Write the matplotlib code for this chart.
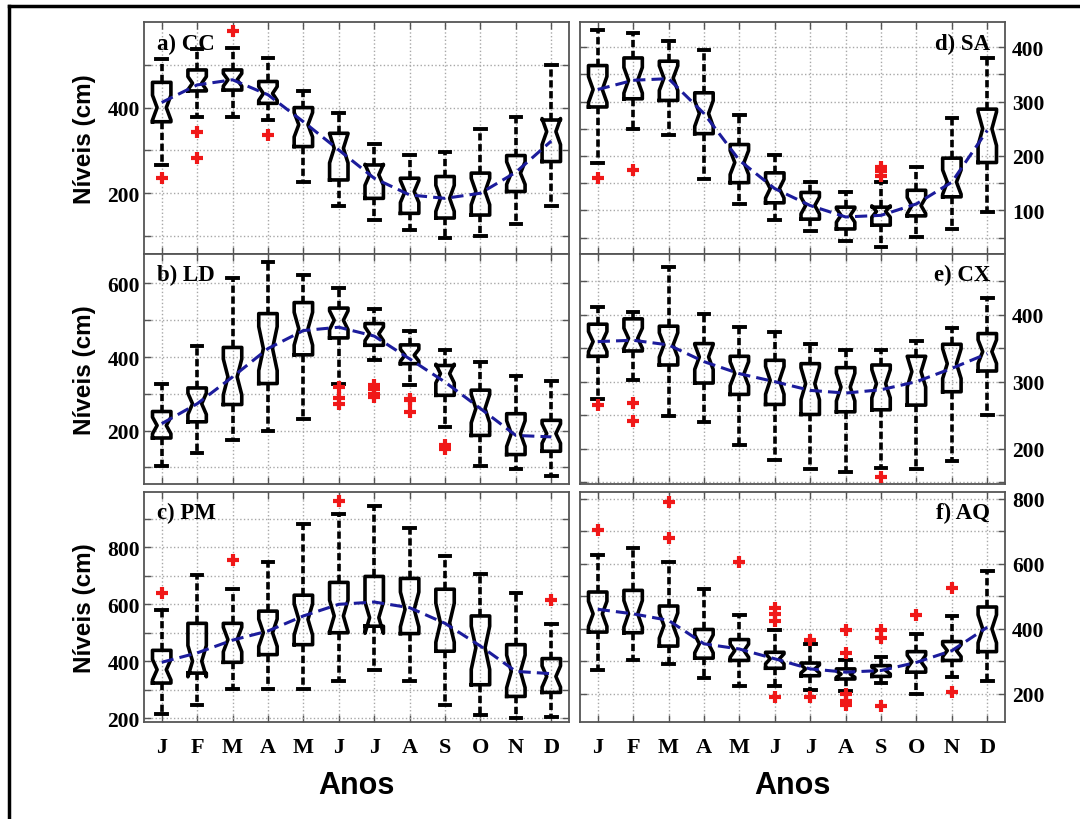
import numpy as np
import matplotlib
matplotlib.use('Agg')
import matplotlib.pyplot as plt
from matplotlib.ticker import FixedLocator

# Month labels shared by all panels
months = ['J', 'F', 'M', 'A', 'M', 'J', 'J', 'A', 'S', 'O', 'N', 'D']
n_years = 25  # sample size used for the notch width

# (whislo, q1, median, q3, whishi) for each month, outliers, and the fitted curve

# a) CC
cc_box = [(265, 367, 400, 459, 513), (379, 439, 457, 488, 538), (379, 441, 465, 488, 540),
          (372, 410, 433, 461, 517), (226, 309, 360, 400, 439), (169, 231, 305, 340, 387),
          (138, 188, 243, 266, 314), (113, 153, 204, 235, 290), (95, 142, 188, 239, 297),
          (101, 149, 204, 247, 350), (128, 204, 247, 288, 379), (169, 274, 344, 371, 500)]
cc_out = [[235], [342, 282], [580], [336], [], [], [], [], [], [], [], []]
cc_line = [412, 453, 465, 430, 367, 301, 235, 196, 188, 200, 249, 322]

# b) LD
ld_box = [(104, 180, 214, 252, 328), (140, 224, 273, 316, 430), (174, 271, 346, 426, 614),
          (200, 328, 423, 518, 658), (231, 406, 477, 548, 624), (328, 452, 500, 533, 587),
          (391, 432, 463, 491, 531), (323, 382, 405, 433, 470), (210, 296, 355, 377, 418),
          (104, 187, 260, 310, 386), (97, 135, 192, 246, 348), (77, 144, 192, 228, 334)]
ld_out = [[], [], [], [], [], [319, 289, 273], [323, 314, 300, 291], [287, 282, 251],
          [160, 151], [], [], []]
ld_line = [219, 273, 346, 423, 472, 481, 457, 395, 332, 260, 187, 183]

# c) PM
pm_box = [(213, 323, 370, 438, 580), (246, 358, 400, 533, 703), (301, 396, 476, 533, 653),
          (301, 423, 500, 576, 748), (301, 458, 547, 632, 883), (329, 500, 559, 677, 919),
          (370, 523, 553, 698, 946), (331, 497, 582, 691, 868), (246, 435, 535, 653, 771),
          (211, 317, 447, 559, 706), (199, 276, 364, 458, 639), (202, 290, 346, 409, 529)]
pm_out = [[638], [], [756], [], [], [962], [], [], [], [], [], [615]]
pm_line = [396, 429, 474, 506, 559, 600, 608, 588, 533, 453, 364, 356]

# d) SA
sa_box = [(188, 290, 322, 366, 432), (249, 305, 339, 380, 426), (238, 302, 343, 374, 412),
          (158, 241, 278, 316, 394), (111, 151, 188, 221, 275), (82, 114, 140, 169, 201),
          (63, 84, 109, 133, 152), (43, 66, 91, 106, 133), (33, 73, 98, 106, 152),
          (51, 90, 109, 137, 180), (66, 125, 152, 196, 270), (98, 188, 250, 286, 380)]
sa_out = [[159], [175], [], [], [], [], [], [], [180, 172, 164], [], [], []]
sa_line = [322, 339, 342, 278, 192, 140, 109, 88, 91, 112, 152, 247]

# e) CX
cx_box = [(274, 338, 360, 386, 412), (302, 346, 365, 394, 405), (248, 325, 355, 383, 471),
          (240, 298, 337, 357, 402), (206, 281, 312, 338, 382), (183, 266, 302, 332, 375),
          (170, 251, 297, 327, 357), (165, 255, 292, 321, 347), (171, 258, 297, 325, 348),
          (170, 265, 315, 338, 361), (182, 285, 327, 356, 381), (250, 316, 345, 372, 425)]
cx_out = [[265], [268, 241], [], [], [], [], [], [], [157], [], [], []]
cx_line = [360, 362, 355, 330, 312, 300, 287, 283, 288, 300, 320, 342]

# f) AQ
aq_box = [(275, 390, 446, 513, 626), (303, 388, 446, 518, 648), (292, 347, 410, 470, 605),
          (248, 310, 354, 398, 521), (224, 303, 333, 367, 441), (226, 279, 308, 328, 395),
          (213, 256, 277, 295, 354), (210, 246, 261, 277, 303), (234, 254, 272, 287, 313),
          (200, 267, 299, 330, 385), (251, 303, 333, 361, 439), (241, 330, 400, 467, 576)]
aq_out = [[703], [], [788, 679], [], [605], [464, 446, 423, 190], [367, 190],
          [395, 326, 200, 179, 166], [395, 371, 162], [441], [525, 207], []]
aq_line = [460, 446, 426, 354, 338, 308, 277, 267, 272, 297, 333, 405]

# panel settings: data, label, ylim, labelled ticks, grid step
panels = [
    (cc_box, cc_out, cc_line, 'a) CC', (58, 600), [200, 400], 100),
    (ld_box, ld_out, ld_line, 'b) LD', (55, 680), [200, 400, 600], 100),
    (pm_box, pm_out, pm_line, 'c) PM', (186, 995), [200, 400, 600, 800], 100),
    (sa_box, sa_out, sa_line, 'd) SA', (20, 446), [100, 200, 300, 400], 50),
    (cx_box, cx_out, cx_line, 'e) CX', (147, 491), [200, 300, 400], 50),
    (aq_box, aq_out, aq_line, 'f) AQ', (114, 820), [200, 400, 600, 800], 100),
]

# tick labels and panel names are in a bold serif face
plt.rcParams['font.family'] = 'Liberation Serif'
plt.rcParams['font.weight'] = 'bold'
sans = 'Liberation Sans'

W, H = 1080, 820
fig = plt.figure(figsize=(W / 100, H / 100), dpi=100)

col_left = [144, 580]
col_width = 425
rows = [(23, 255), (255, 485), (493, 723)]

positions = np.arange(1, 13)

for k, (box, out, line, label, ylim, ylab, step) in enumerate(panels):
    col = k // 3
    row = k % 3
    top, bot = rows[row]
    ax = fig.add_axes([col_left[col] / W, 1 - bot / H, col_width / W, (bot - top) / H])

    stats = []
    for (lo, q1, med, q3, hi), fl in zip(box, out):
        half = 1.57 * (q3 - q1) / np.sqrt(n_years)
        stats.append(dict(whislo=lo, q1=q1, med=med, q3=q3, whishi=hi,
                          cilo=med - half, cihi=med + half, fliers=fl))

    ax.bxp(stats, positions=positions, widths=0.52, capwidths=0.3, shownotches=True,
           boxprops=dict(color='black', linewidth=2.6),
           whiskerprops=dict(color='black', linewidth=2.6, linestyle=(0, (2, 1))),
           capprops=dict(color='black', linewidth=2.8),
           medianprops=dict(linewidth=0),
           flierprops=dict(marker='+', markeredgecolor='#f01818', markersize=9,
                           markeredgewidth=3, linestyle='none'))

    ax.plot(positions, line, color='#1c1c9c', linewidth=2.2, linestyle=(0, (4, 2)), zorder=5)

    ax.set_xlim(0.5, 12.5)
    ax.set_ylim(*ylim)
    grid_vals = np.arange(step * np.ceil(ylim[0] / step), ylim[1], step)
    minor_vals = [v for v in grid_vals if v not in ylab]
    ax.yaxis.set_major_locator(FixedLocator(ylab))
    ax.yaxis.set_minor_locator(FixedLocator(minor_vals))
    ax.set_xticks(positions)
    ax.set_xticklabels(months)

    ax.grid(True, which='both', linestyle=':', color='#a8a8a8', linewidth=1)
    ax.set_axisbelow(True)
    ax.tick_params(which='both', direction='in', top=True, right=True, length=5,
                   width=1, color='#555555')
    ax.tick_params(axis='y', labelsize=15.5)
    ax.tick_params(axis='x', labelsize=16, pad=11)
    for sp in ax.spines.values():
        sp.set_color('#555555')
        sp.set_linewidth(1.3)

    if row < 2:
        ax.tick_params(axis='x', labelbottom=False)
    if col == 1:
        ax.tick_params(axis='y', labelleft=False, labelright=True, pad=5)
        ax.text(0.965, 0.955, label, transform=ax.transAxes, ha='right', va='top',
                fontsize=16.5, fontweight='bold')
    else:
        ax.tick_params(axis='y', pad=3)
        ax.text(0.03, 0.955, label, transform=ax.transAxes, ha='left', va='top',
                fontsize=16.5, fontweight='bold')
        ax.set_ylabel('Níveis (cm)', fontsize=17.5, fontweight='bold', family=sans,
                      labelpad=8)

    if row == 2:
        ax.set_xlabel('Anos', fontsize=22, fontweight='bold', family=sans, labelpad=9)

# frame around the figure (only the left and top edges are visible)
fig.add_artist(plt.Line2D([9 / W, 9 / W], [0, 1 - 7 / H], color='black', linewidth=2.5,
                          transform=fig.transFigure))
fig.add_artist(plt.Line2D([9 / W, 1], [1 - 7 / H, 1 - 7 / H], color='black', linewidth=2.5,
                          transform=fig.transFigure))

fig.savefig('out.png', dpi=100)
